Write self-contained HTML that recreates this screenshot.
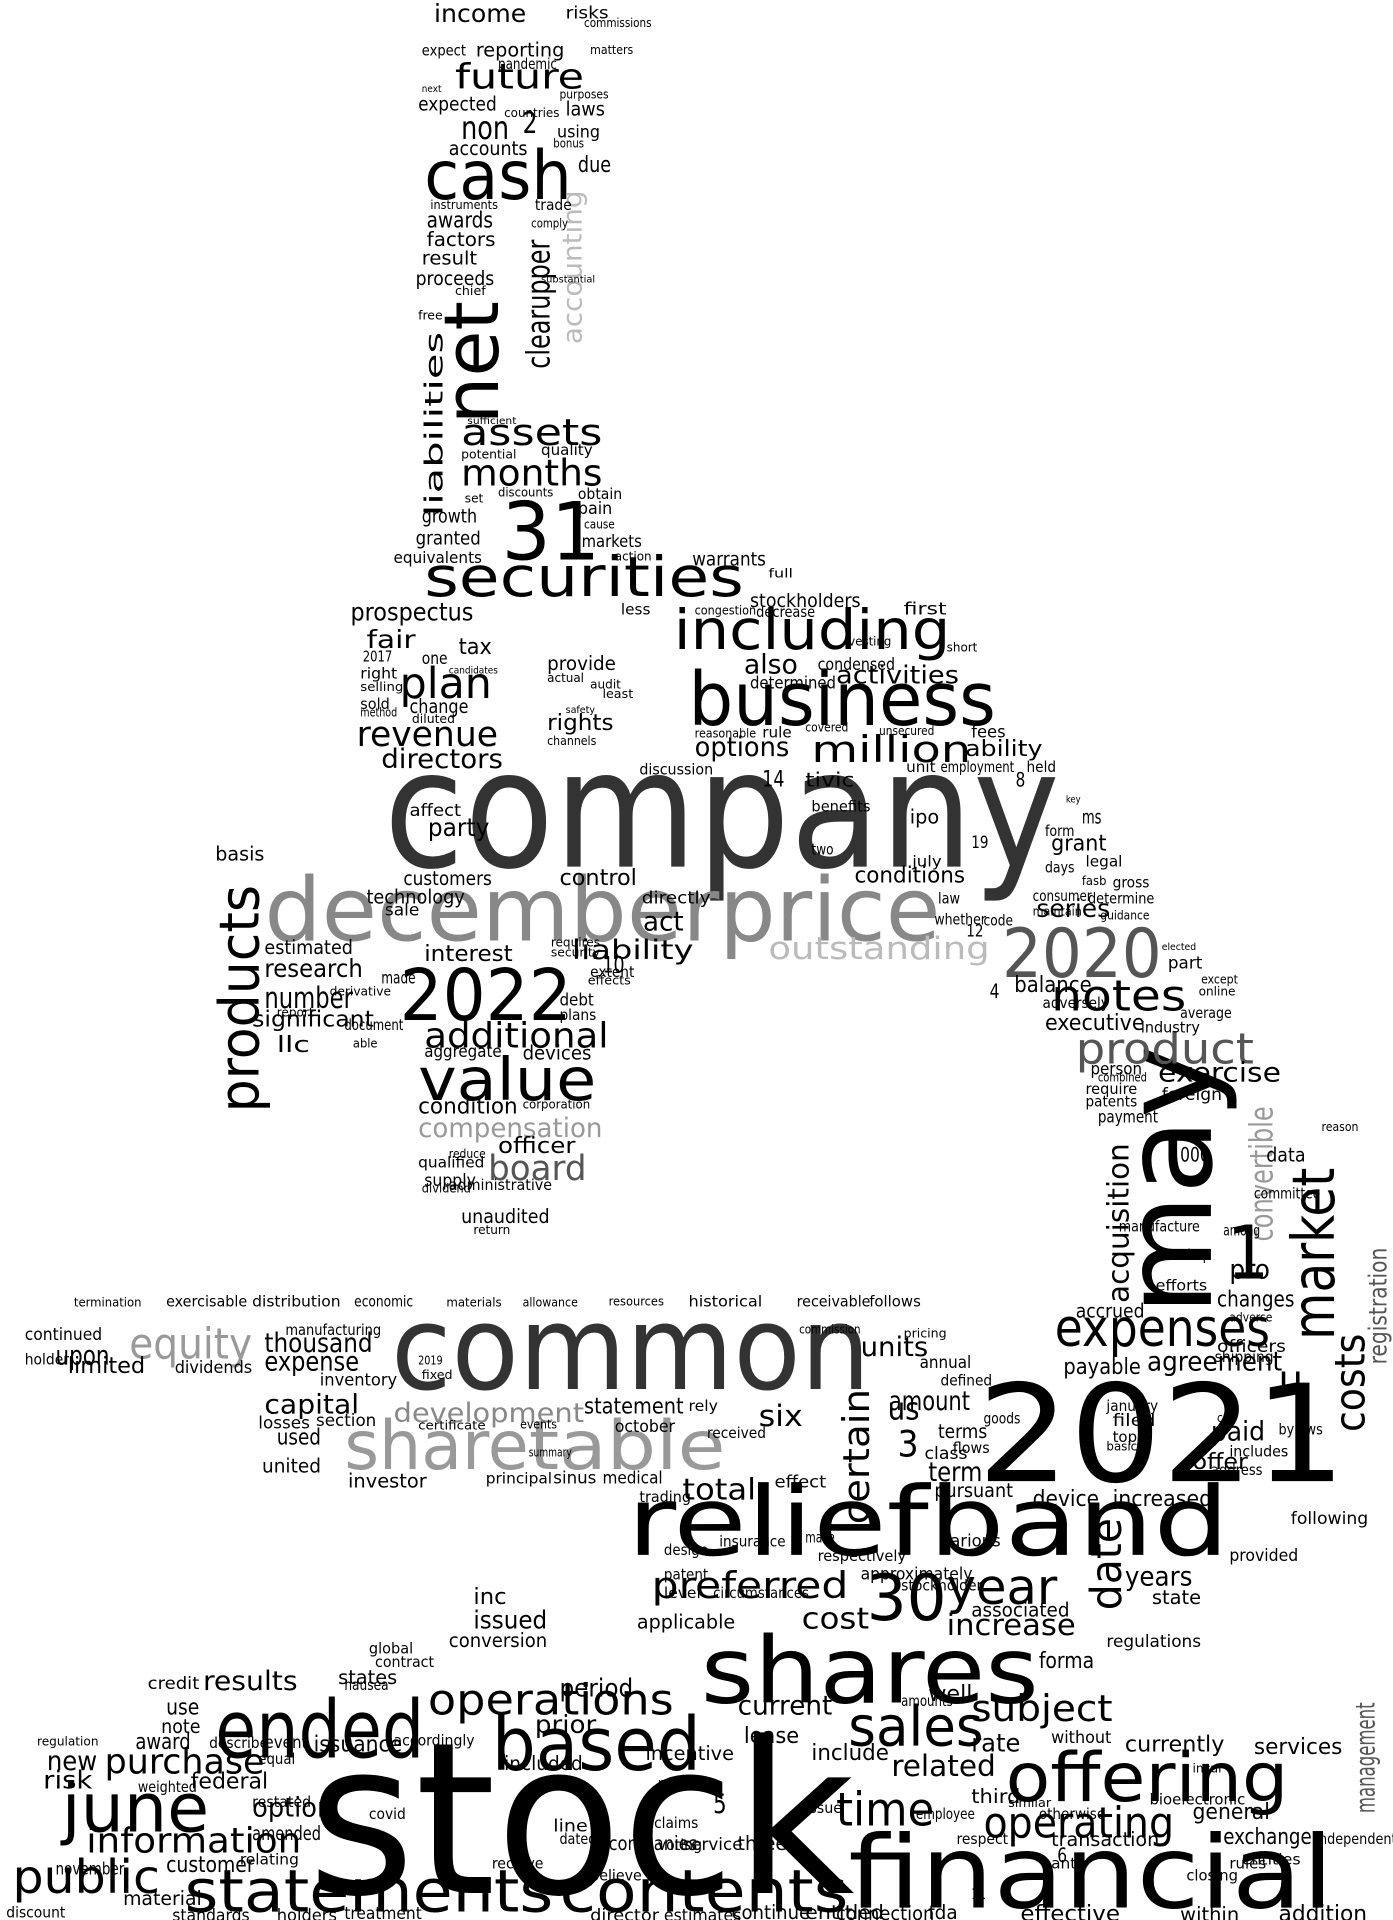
<!DOCTYPE html>
<html><head><meta charset="utf-8"><style>
html,body{margin:0;padding:0;background:#fff;}
svg{display:block;}
text{font-family:"DejaVu Sans Condensed","DejaVu Sans","Liberation Sans",sans-serif;font-stretch:condensed;}
</style></head>
<body>
<svg id="cloud" width="1393" height="1920" viewBox="0 0 1133 1562" xmlns="http://www.w3.org/2000/svg"></svg>
<script>
// [text, x, baseline, fontSize, length(0=auto), color, rotated]
const bigWords = [
["company",312,705,133,550,"#333",0],
["stock",250,1540,172,445,"#000",0],
["common",318,1130,95,390,"#333",0],
["2021",795,1205,110,300,"#000",0],
["reliefband",510,1265,78,490,"#000",0],
["financial",690,1552,82,395,"#000",0],
["december",215,765,72,370,"#888",0],
["price",585,765,72,180,"#888",0],
["2020",815,795,55,130,"#555",0],
["2022",325,830,58,140,"#000",0],
["may",985,1070,100,220,"#000",1],
["business",560,590,60,250,"#000",0],
["including",548,528,45,225,"#000",0],
["securities",345,485,45,260,"#000",0],
["cash",345,162,55,120,"#000",0],
["net",405,345,62,100,"#000",1],
["31",408,455,65,80,"#000",0],
["shares",570,1385,75,275,"#000",0],
["ended",175,1430,65,170,"#000",0],
["based",400,1440,60,170,"#000",0],
["offering",818,1465,55,230,"#000",0],
["june",50,1490,55,120,"#000",0],
["statements",150,1555,48,300,"#000",0],
["contents",455,1555,48,235,"#000",0],
["share",280,1195,55,150,"#999",0],
["table",430,1195,55,160,"#999",0],
["equity",105,1105,35,100,"#999",0],
["expenses",858,1095,42,175,"#000",0],
["market",1085,1090,48,140,"#000",1],
["value",340,895,48,145,"#000",0],
["products",210,905,45,185,"#000",1],
["product",875,865,35,145,"#555",0],
["notes",855,822,35,110,"#000",0],
["months",375,395,30,115,"#000",0],
["assets",375,362,30,115,"#000",0],
["plan",325,568,35,75,"#000",0],
["revenue",290,607,28,115,"#000",0],
["million",660,620,30,130,"#000",0],
["30",705,1318,52,65,"#000",0],
["year",770,1305,40,90,"#000",0],
["preferred",530,1300,30,160,"#000",0],
["operations",348,1395,35,200,"#000",0],
["sales",690,1420,45,110,"#000",0],
["subject",790,1400,30,115,"#000",0],
["time",680,1485,38,80,"#000",0],
["operating",800,1495,35,155,"#000",0],
["purchase",85,1443,28,130,"#000",0],
["information",70,1507,28,175,"#000",0],
["public",10,1540,38,120,"#000",0],
["additional",345,852,28,150,"#000",0],
["future",370,72,28,105,"#000",0],
["income",353,18,20,75,"#000",0],
["1",998,1040,60,0,"#000",0],
["date",912,1310,35,75,"#000",1],
["development",320,1157,22,155,"#888",0],
["outstanding",625,780,25,180,"#bbb",0],
["compensation",340,925,22,150,"#999",0],
["board",397,960,28,80,"#555",0],
["certain",707,1240,30,110,"#000",1],
["clearupper",447,300,26,105,"#000",1],
["accounting",473,280,22,125,"#bbb",1],
["liabilities",360,420,20,150,"#000",1],
["acquisition",918,1060,24,130,"#000",1],
["convertible",1035,1010,26,110,"#999",1],
["costs",1110,1165,34,80,"#000",1],
["management",1118,1475,22,90,"#555",1],
["registration",1128,1110,20,95,"#555",1],
["u",1040,1135,35,0,"#000",0],
["3",730,1185,30,0,"#000",0],
["total",555,1220,24,60,"#000",0],
["us",722,1155,25,0,"#000",0],
["exercise",942,880,22,100,"#000",0],
["agreement",933,1115,22,110,"#000",0],
["increase",770,1330,24,105,"#000",0],
["cost",652,1325,24,55,"#000",0],
["related",725,1445,24,85,"#000",0],
["new",38,1440,22,0,"#000",0]
];
const smallWords = [
["risks",460,15,14],["reporting",387,46,16],["laws",460,94,16],["non",375,113,26],["2",425,108,24],
["accounts",365,126,16],["expected",340,90,16],["awards",347,185,18],["factors",347,200,16],["result",343,215,15],
["proceeds",338,232,16],["growth",343,425,15],["granted",338,443,15],["equivalents",320,458,13],["markets",473,445,14],
["warrants",563,460,15],["stockholders",610,494,15],["prospectus",285,505,20],["fair",298,527,20],["tax",373,532,18],
["one",343,540,14],["change",333,580,16],["sold",293,577,12],["also",605,548,22],["options",565,615,22],
["activities",680,556,20],["ability",785,615,18],["directors",310,625,22],["affect",333,664,14],["party",348,680,20],
["customers",328,720,16],["control",455,720,18],["conditions",695,718,18],["grant",855,692,18],["series",843,746,20],
["act",523,757,22],["liability",465,780,22],["interest",345,782,18],["research",215,795,20],["number",215,820,24],
["significant",205,835,18],["llc",225,856,18],["basis",175,700,16],["estimated",215,776,16],["aggregate",345,860,14],
["devices",425,862,16],["condition",340,906,18],["officer",405,938,18],["qualified",340,950,12],["supply",345,965,14],
["thousand",215,1100,22],["expense",215,1115,22],["capital",215,1150,22],["used",225,1175,18],["losses",210,1162,14],
["united",213,1198,16],["investor",283,1210,16],["units",700,1103,22],["amount",723,1147,22],["term",755,1205,22],
["terms",763,1170,16],["statement",475,1150,18],["six",617,1160,24],["issued",385,1325,20],["current",600,1395,22],
["applicable",518,1325,16],["period",455,1380,20],["prior",435,1410,20],["results",165,1375,22],["use",135,1395,18],
["note",131,1410,16],["award",110,1423,18],["option",205,1478,22],["issuance",255,1425,18],["federal",155,1455,18],
["customer",135,1523,18],["risk",35,1455,20],["material",100,1550,16],["standards",140,1563,14],
["holders",225,1563,14],["treatment",280,1561,14],["director",480,1563,14],["estimates",540,1563,14],["continue",595,1561,16],
["entitled",655,1561,16],["connection",680,1562,16],["fda",755,1561,16],["effective",830,1563,18],["within",960,1563,16],
["addition",1040,1563,18],["services",1020,1427,18],["currently",915,1425,18],["rate",790,1425,20],["third",790,1467,16],
["general",970,1480,18],["exchange",995,1500,18],["transaction",855,1502,16],["closing",965,1530,12],["years",915,1290,22],
["state",937,1305,16],["device",840,1225,18],["increased",905,1225,18],["offer",970,1195,18],["paid",985,1172,22],
["changes",990,1063,18],["payable",865,1118,18],["accrued",875,1072,16],["annual",748,1113,14],["pursuant",760,1218,16],
["inc",385,1305,18],["conversion",365,1340,16],["include",660,1432,18],["lease",605,1418,18],["incentive",525,1432,16],
["included",410,1440,16],["companies",495,1505,16],["three",600,1505,16],["service",555,1505,14],["line",450,1490,14],
["upon",45,1110,22],["limited",55,1117,18],["continued",20,1090,14],["payment",893,913,14],["person",887,874,14],
["data",1030,945,16],["000",960,945,16],["pro",1000,1040,22],["ms",880,670,16],["ipo",740,670,16],["tivic",655,640,16],
["provide",445,545,16],["rights",445,594,18],["first",735,500,14],["fees",790,600,14],["condensed",665,545,14],
["determined",610,560,14],["executive",850,838,18],["balance",825,807,18],["technology",298,735,16],["directly",522,735,14],
["termination",60,1063,10],["exercisable",135,1063,12],["distribution",205,1063,12],["economic",288,1063,12],
["materials",363,1063,10],["allowance",425,1063,10],["resources",495,1062,10],["historical",560,1063,12],
["receivable",648,1063,12],["follows",707,1063,12],["manufacturing",232,1086,12],["inventory",260,1127,14],
["section",257,1160,14],["dividends",142,1117,14],["holder",20,1110,12],["commission",650,1085,10],["pricing",735,1088,10],
["defined",765,1127,12],["flows",775,1182,12],["goods",800,1158,12],["class",752,1187,14],["january",900,1148,12],
["filed",905,1160,14],["topic",905,1173,12],["address",985,1200,12],["bylaws",1040,1167,12],["provided",1000,1270,14],
["following",1050,1240,14],["regulations",900,1340,14],["forma",845,1357,18],["associated",790,1315,16],["well",755,1384,18],
["amounts",733,1388,12],["various",765,1258,14],["stockholder",733,1294,12],["respect",778,1500,12],["anti",855,1520,12],
["without",855,1418,14],["incur",970,1442,10],["employee",745,1480,12],["similar",820,1470,10],["otherwise",845,1480,12],
["bioelectronic",935,1468,12],["entities",1010,1517,12],["rules",1000,1520,12],["independent",1070,1500,12],
["nausea",280,1375,12],["states",275,1370,16],["global",300,1345,12],["contract",305,1356,12],["credit",120,1374,14],
["accordingly",320,1420,12],["amended",205,1497,16],["equal",210,1435,12],["event",215,1422,14],["restated",205,1470,12],
["covid",300,1480,12],["relating",195,1517,12],["november",45,1525,14],["discount",5,1560,12],["describe",170,1422,12],
["weighted",112,1458,12],["regulation",30,1420,10],["receive",400,1520,12],["dated",455,1500,12],["believe",480,1530,12],
["claims",532,1487,12],["persons",535,1455,12],["voting",535,1505,12],["5",580,1475,22],["issue",655,1475,12],
["6",860,1515,16],["11",790,1545,12],["design",540,1265,12],["patent",540,1285,12],["level",540,1300,12],
["circumstances",580,1300,12],["insurance",585,1258,12],["make",655,1255,12],["trading",520,1222,12],
["approximately",700,1285,14],["respectively",665,1270,12],["effect",630,1210,14],["october",500,1165,14],
["rely",560,1148,12],["received",575,1170,12],["summary",430,1185,10],["events",423,1162,10],["certificate",340,1163,10],
["fixed",343,1122,10],["2019",340,1110,10],["sinus",450,1207,14],["medical",490,1207,14],["principal",395,1207,12],
["unaudited",375,995,16],["return",385,1004,10],["administrative",365,968,12],["dividend",343,970,10],
["reduce",365,942,10],["corporation",425,902,10],["plans",455,830,12],["debt",455,818,14],["10",490,791,18],
["extent",480,795,12],["effects",478,801,10],["requires",448,770,10],["security",448,778,10],["made",310,800,14],
["sale",313,745,14],["derivative",268,810,10],["report",225,827,10],["document",280,838,12],["able",287,852,10],
["rule",620,600,12],["reasonable",565,600,10],["covered",655,595,10],["unsecured",715,598,10],["employment",765,628,12],
["held",835,628,12],["unit",737,628,12],["discussion",520,630,12],["14",620,640,18],["8",826,640,16],
["benefits",660,660,12],["two",660,695,12],["ipo2",0,0,0],["july",742,705,12],["19",790,690,14],["law",763,735,12],
["whether",760,752,12],["code",800,753,12],["12",786,762,14],["4",805,812,16],["adversely",848,820,12],
["person2",0,0,0],["combined",893,880,10],["require",883,890,12],["patents",883,900,12],["industry",928,840,12],
["average",960,828,12],["online",975,810,10],["except",977,800,10],["part",950,788,14],["elected",945,773,8],
["legal",883,705,12],["days",850,710,12],["gross",905,722,12],["fasb",880,720,10],["consumer",840,733,12],
["determine",885,735,12],["maintain",840,745,10],["guidance",895,748,10],["form",850,680,12],["key",867,653,8],
["foreign",945,895,14],["reason",1075,920,10],["committee",1020,975,12],["nasdaq",945,1025,12],["efforts",940,1050,12],
["manufacture",910,1002,12],["among",995,1005,12],["adverse",1000,1075,10],["officers",990,1100,14],["shipping",988,1108,12],
["includes",1000,1185,12],["ce",990,1157,10],["basic",900,1180,10],["full",625,470,10],["less",505,500,12],
["congestion",565,500,10],["decrease",615,502,12],["short",770,530,10],["vesting",690,525,10],["candidates",365,548,8],
["right",293,552,12],["selling",293,562,10],["method",293,583,10],["diluted",335,588,10],["2017",295,538,12],
["actual",445,555,10],["audit",480,560,10],["least",490,568,10],["safety",460,580,8],["channels",445,606,10],
["action",500,456,10],["cause",475,430,10],["pain",470,418,14],["obtain",470,406,12],["discounts",405,404,10],
["set",378,409,10],["potential",375,373,10],["quality",440,370,12],["sufficient",380,345,8],["free",340,260,10],
["chief",370,240,10],["substantial",440,230,8],["cause2",0,0,0],["comply",432,185,10],["trade",435,171,12],
["instruments",350,170,10],["due",470,140,18],["using",453,112,14],["bonus",450,120,10],["countries",410,95,10],
["purposes",455,80,10],["next",343,75,8],["expect",343,45,12],["pandemic",405,56,12],["matters",480,44,10],
["commissions",475,22,10]
];
const svg = document.getElementById('cloud');
const NS = "http://www.w3.org/2000/svg";
function place(w, big) {
  if (!w[3]) return;
  const t = document.createElementNS(NS, 'text');
  t.textContent = w[0];
  t.setAttribute('x', w[1]);
  t.setAttribute('y', w[2]);
  t.setAttribute('font-size', w[3]);
  t.setAttribute('fill', big ? w[5] : '#000');
  const len = big ? w[4] : Math.round(w[0].length * w[3] * 0.5);
  if (len > 0) {
    t.setAttribute('textLength', len);
    t.setAttribute('lengthAdjust', 'spacingAndGlyphs');
  }
  if (big && w[6]) t.setAttribute('transform', 'rotate(-90 ' + w[1] + ' ' + w[2] + ')');
  
  
  svg.appendChild(t);
}
bigWords.forEach(w => place(w, true));
smallWords.forEach(w => place(w, false));
</script>
</body></html>
